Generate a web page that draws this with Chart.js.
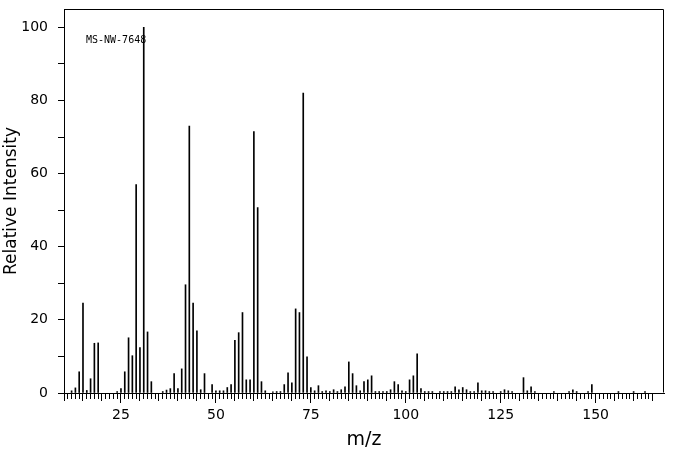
<!DOCTYPE html>
<html>
<head>
<meta charset="utf-8">
<script src="https://cdn.jsdelivr.net/npm/chart.js@4/dist/chart.umd.min.js"></script>
<style>
  html, body { margin: 0; padding: 0; background: #fff; }
  #wrap { width: 676px; height: 455px; }
</style>
</head>
<body>
<div id="wrap"><canvas id="ms-chart" width="676" height="455"></canvas></div>
<script>
// spectrum peaks (m/z and relative intensity in %)
var mz = [12, 13, 14, 15, 16, 17, 18, 19, 24, 25, 26, 27, 28, 29, 30, 31, 32, 33,
  36, 37, 38, 39, 40, 41, 42, 43, 44, 45, 46, 47, 49, 50, 51, 52, 53, 54, 55, 56,
  57, 58, 59, 60, 61, 62, 63, 65, 66, 67, 68, 69, 70, 71, 72, 73, 74, 75, 76, 77,
  78, 79, 80, 81, 82, 83, 84, 85, 86, 87, 88, 89, 90, 91, 92, 93, 94, 95, 96, 97,
  98, 99, 100, 101, 102, 103, 104, 105, 106, 107, 109, 110, 111, 112, 113, 114,
  115, 116, 117, 118, 119, 120, 121, 122, 123, 125, 126, 127, 128, 131, 132, 133,
  134, 139, 143, 144, 145, 148, 149, 156, 160, 163];
var intensity = [0.6, 1.4, 5.8, 24.6, 0.7, 3.9, 13.6, 13.7, 0.4, 1.2, 5.8, 15.1, 10.2, 57, 12.4, 100, 16.7, 3.1,
  0.4, 0.8, 1.2, 5.3, 1.2, 6.6, 29.6, 73, 24.6, 17, 0.9, 5.3, 2.3, 0.6, 0.6, 0.6, 1.5, 2.3, 14.4, 16.5,
  22, 3.6, 3.6, 71.5, 50.7, 3.1, 0.6, 0.3, 0.4, 0.4, 2.3, 5.5, 2.8, 23, 22, 82, 9.9, 1.5, 0.6, 2,
  0.4, 0.6, 0.4, 0.9, 0.4, 0.9, 1.7, 8.5, 5.3, 2, 0.6, 3.1, 3.6, 4.7, 0.4, 0.4, 0.4, 0.4, 0.9, 3.1,
  2.3, 0.6, 0.4, 3.6, 4.7, 10.7, 1.2, 0.4, 0.4, 0.4, 0.4, 0.4, 0.4, 0.4, 1.7, 0.9,
  1.5, 0.9, 0.4, 0.4, 2.8, 0.6, 0.6, 0.4, 0.4, 0.4, 0.9, 0.6, 0.4, 4.2, 0.6, 1.7,
  0.4, 0.4, 0.4, 0.9, 0.4, 0.4, 2.3, 0.4, 0.4, 0.4];

// axis ticks
var xTickValues = [];
for (var v = 10; v <= 165; v++) xTickValues.push(v);
var xLabelStep = 25;
var yTickValues = [0, 10, 20, 30, 40, 50, 60, 70, 80, 90, 100];
var yLabelStep = 20;
var sampleId = "MS-NW-7648";

var points = mz.map(function (m, i) { return { x: m, y: intensity[i] }; });

// box round the plot + sample id
var framePlugin = {
  id: "frame",
  afterDraw: function (chart) {
    var a = chart.chartArea, ctx = chart.ctx;
    ctx.save();
    ctx.strokeStyle = "#000";
    ctx.lineWidth = 1;
    var l = Math.round(a.left) + 0.5, r = Math.round(a.right) - 0.5;
    var t = Math.round(a.top) + 0.5, b = Math.round(a.bottom) - 0.5;
    ctx.beginPath();
    ctx.moveTo(l, t); ctx.lineTo(r, t); ctx.lineTo(r, b);
    ctx.stroke();
    ctx.fillStyle = "#000";
    ctx.font = "10px 'DejaVu Sans Mono'";
    ctx.textBaseline = "middle";
    ctx.fillText(sampleId, a.left + 22, a.top + 31);
    ctx.restore();
  }
};

var ctx = document.getElementById("ms-chart");
var chart = new Chart(ctx, {
  type: "bar",
  data: {
    datasets: [{
      data: points,
      backgroundColor: "#000",
      borderWidth: 0,
      barThickness: 1
    }]
  },
  options: {
    responsive: false,
    animation: false,
    layout: { padding: { top: 9, right: 12, left: 0, bottom: 0 } },
    plugins: { legend: { display: false }, tooltip: { enabled: false } },
    scales: {
      x: {
        type: "linear",
        min: 10,
        max: 168,
        offset: false,
        afterBuildTicks: function (scale) {
          scale.ticks = xTickValues.map(function (v) { return { value: v }; });
        },
        afterFit: function (scale) {
          scale.height = 62;
          scale.paddingLeft = 0;
          scale.paddingRight = 0;
        },
        grid: {
          offset: false,
          drawOnChartArea: false,
          tickLength: 10,
          tickColor: "#000",
          tickBorderDash: function (c) {
            var v = c.tick ? c.tick.value : 0;
            if (v % 25 === 0) return [];
            if (v % 5 === 0) return [7, 20];
            return [5, 20];
          }
        },
        border: { color: "#000", width: 1 },
        ticks: {
          autoSkip: false,
          maxRotation: 0,
          padding: 4,
          color: "#000",
          font: { family: "DejaVu Sans", size: 14 },
          callback: function (value) { return value % xLabelStep === 0 ? value : ""; }
        },
        title: {
          display: true,
          text: "m/z",
          color: "#000",
          font: { family: "DejaVu Sans", size: 19 },
          padding: { top: 0, bottom: 4 }
        }
      },
      y: {
        min: 0,
        max: 105,
        afterBuildTicks: function (scale) {
          scale.ticks = yTickValues.map(function (v) { return { value: v }; });
        },
        afterFit: function (scale) {
          scale.width = 64;
          scale.paddingTop = 0;
          scale.paddingBottom = 0;
        },
        grid: {
          drawOnChartArea: false,
          tickLength: 6,
          tickColor: "#000"
        },
        border: { color: "#000", width: 1 },
        ticks: {
          padding: 10,
          color: "#000",
          font: { family: "DejaVu Sans", size: 14 },
          callback: function (value) { return value % yLabelStep === 0 ? value : ""; }
        },
        title: {
          display: true,
          text: "Relative Intensity",
          color: "#000",
          font: { family: "DejaVu Sans", size: 17 },
          padding: { top: 1, bottom: 0 }
        }
      }
    }
  },
  plugins: [framePlugin]
});
</script>
</body>
</html>
